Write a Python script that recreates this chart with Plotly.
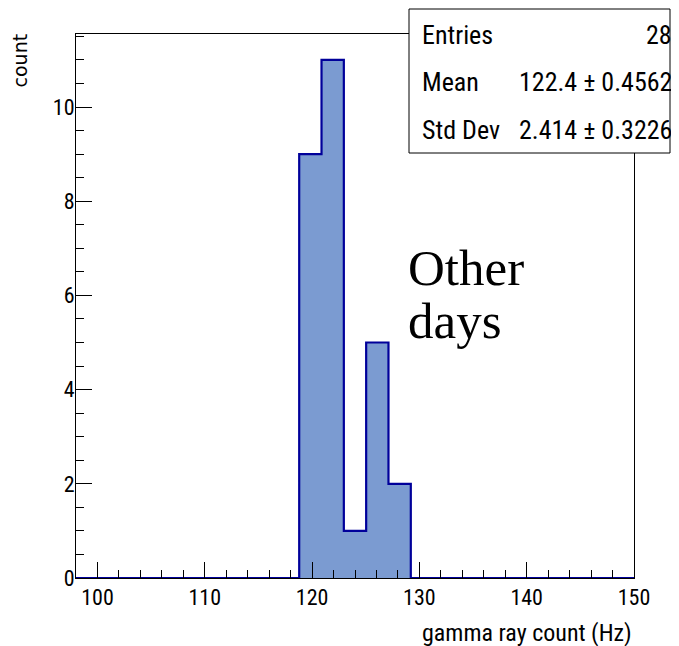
import plotly.graph_objects as go

# Data
bin_low = 98.0
bin_width = 2.08
counts = [0, 0, 0, 0, 0, 0, 0, 0, 0, 0, 9, 11, 1, 5, 2, 0, 0, 0, 0, 0, 0, 0, 0, 0, 0]
x_ticks = [100, 110, 120, 130, 140, 150]
y_ticks = [0, 2, 4, 6, 8, 10]
stats_labels = ["Entries", "Mean", "Std Dev"]
stats_values = ["28", "122.4 \u00b1 0.4562", "2.414 \u00b1 0.3226"]
note_lines = ["Other", "days"]

edges = [bin_low + i * bin_width for i in range(len(counts) + 1)]
centers = [bin_low + (i + 0.5) * bin_width for i in range(len(counts))]

FONT = "Roboto Condensed, Liberation Sans, sans-serif"
SERIF = "Liberation Serif, serif"
FILL = "#7b9bd1"
LINE = "#00009a"

fig = go.Figure()
fig.add_trace(go.Bar(x=centers, y=counts, width=bin_width,
                     marker=dict(color=FILL, line=dict(width=0)),
                     hoverinfo="skip", showlegend=False))
sx = [edges[0]]
sy = [0]
for i, c in enumerate(counts):
    sx += [edges[i], edges[i + 1]]
    sy += [c, c]
sx.append(edges[-1])
sy.append(0)
fig.add_trace(go.Scatter(x=sx, y=sy, mode="lines", line=dict(color=LINE, width=2.2),
                         hoverinfo="skip", showlegend=False))

fig.update_layout(
    width=671, height=638,
    margin=dict(l=68, r=45, t=26, b=68),
    paper_bgcolor="white", plot_bgcolor="white",
    bargap=0,
    font=dict(family=FONT, color="black", size=18),
    xaxis=dict(range=[98, 150], tickvals=x_ticks, ticks="inside", ticklen=16,
               tickcolor="black", showgrid=False, zeroline=False,
               showline=True, linecolor="black", linewidth=1, mirror=True,
               tickfont=dict(size=22, family=FONT),
               minor=dict(dtick=2, ticks="inside", ticklen=8, tickcolor="black", showgrid=False)),
    yaxis=dict(range=[0, 11.55], tickvals=y_ticks, ticks="inside", ticklen=16,
               tickcolor="black", showgrid=False, zeroline=False,
               showline=True, linecolor="black", linewidth=1, mirror=True,
               tickfont=dict(size=22, family=FONT), ticklabelstandoff=-4,
               minor=dict(dtick=0.5, ticks="inside", ticklen=8, tickcolor="black", showgrid=False)),
)

fig.add_annotation(text="gamma ray count (Hz)", xref="paper", yref="paper",
                   x=1.0, y=-0.072, xanchor="right", yanchor="top", showarrow=False,
                   font=dict(size=24, family=FONT))
fig.add_annotation(text="count", xref="paper", yref="paper",
                   x=-0.1, y=1.005, xanchor="center", yanchor="top", textangle=-90,
                   showarrow=False, font=dict(size=19, family="DejaVu Sans"))

bx0, bx1 = (409 - 76) / 558, (670 - 76) / 558
by1, by0 = (578 - 9) / 544, (578 - 153) / 544
fig.add_shape(type="rect", xref="paper", yref="paper", x0=bx0, x1=bx1, y0=by0, y1=by1,
              line=dict(color="black", width=1), fillcolor="white", layer="above")
row_y = [35, 82, 130]
for lab, val, yy in zip(stats_labels, stats_values, row_y):
    yp = (578 - yy) / 544
    fig.add_annotation(text=lab, xref="paper", yref="paper", x=(420 - 76) / 558, y=yp,
                       xanchor="left", yanchor="middle", showarrow=False,
                       font=dict(size=26, family=FONT))
    fig.add_annotation(text=val, xref="paper", yref="paper", x=(674 - 76) / 558, y=yp,
                       xanchor="right", yanchor="middle", showarrow=False,
                       font=dict(size=26, family=FONT))

for line_text, base in zip(note_lines, [298, 351]):
    fig.add_annotation(text=line_text, xref="paper", yref="paper",
                       x=(406 - 76) / 558, y=(578 - base) / 544, xanchor="left", yanchor="bottom",
                       showarrow=False, font=dict(size=51, family=SERIF))

fig.write_html("out.html")
